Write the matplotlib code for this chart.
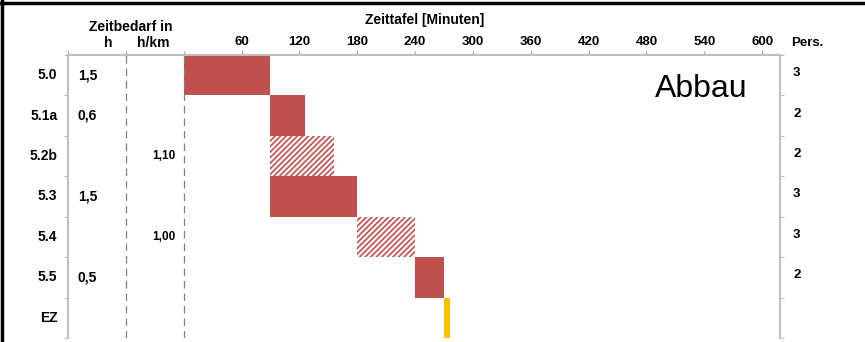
import matplotlib.pyplot as plt
from matplotlib.lines import Line2D

plt.rcParams['font.family'] = ['Liberation Sans', 'DejaVu Sans']
plt.rcParams['hatch.linewidth'] = 1.2

# data
rows = ["5.0", "5.1a", "5.2b", "5.3", "5.4", "5.5", "EZ"]
start_min = [0, 90, 90, 90, 180, 240, 270]
duration_min = [90, 36, 66, 90, 60, 30, 6]
hatched = [False, False, True, False, True, False, False]
h_values = ["1,5", "0,6", "", "1,5", "", "0,5", ""]
hkm_values = ["", "", "1,10", "", "1,00", "", ""]
pers_values = ["3", "2", "2", "3", "3", "2", ""]
time_ticks = [-120, -60, 0, 60, 120, 180, 240, 300, 360, 420, 480, 540, 600]

red = "#C0504D"
yellow = "#FFC000"
grey = "#BFBFBF"

fig = plt.figure(figsize=(8.65, 3.42), dpi=100)
ax = fig.add_axes([68/865, 1-338/342, (780-68)/865, (338-55)/342])
ax.set_xlim(-120, 618.5)
ax.set_ylim(len(rows), 0)

for i, r in enumerate(rows):
    if r == "EZ":
        ax.barh(i+0.5, duration_min[i], left=start_min[i], height=1.0, color=yellow, linewidth=0)
    elif hatched[i]:
        ax.barh(i+0.5, duration_min[i], left=start_min[i], height=1.0, facecolor="white",
                edgecolor=red, hatch="//////", linewidth=0)
    else:
        ax.barh(i+0.5, duration_min[i], left=start_min[i], height=1.0, color=red, linewidth=0)

# dashed separators for the left columns
for xv in [-60, 0]:
    ax.axvline(xv, color="#808080", linestyle=(0, (6, 4)), linewidth=0.9)

# row labels and table columns
for i, r in enumerate(rows):
    y = i + 0.5
    ax.text(-131, y, r, ha="right", va="center", fontsize=10, fontweight="bold", clip_on=False)
    ax.text(-110, y, h_values[i], ha="left", va="center", fontsize=10, fontweight="bold")
    ax.text(-9, y, hkm_values[i], ha="right", va="center", fontsize=8.5, fontweight="bold")
    ax.text(632, y - 0.05, pers_values[i], ha="left", va="center", fontsize=9.5, fontweight="bold", clip_on=False)

# header texts
ax.text(-55, -0.69, "Zeitbedarf in", ha="center", va="center", fontsize=10, fontweight="bold", clip_on=False)
ax.text(-78, -0.30, "h", ha="center", va="center", fontsize=10, fontweight="bold", clip_on=False)
ax.text(-32, -0.30, "h/km", ha="center", va="center", fontsize=10, fontweight="bold", clip_on=False)
ax.text(250, -0.87, "Zeittafel [Minuten]", ha="center", va="center", fontsize=10, fontweight="bold", clip_on=False)
ax.text(630, -0.30, "Pers.", ha="left", va="center", fontsize=9.5, fontweight="bold", clip_on=False)
ax.text(585, 0.85, "Abbau", ha="right", va="center", fontsize=23)

# axes styling
ax.xaxis.tick_top()
ax.set_xticks(time_ticks)
ax.set_xticklabels([str(t) if t > 0 else "" for t in time_ticks], fontsize=9.5, fontweight="bold")
ax.tick_params(axis="x", direction="out", length=3, color="#A0A0A0", pad=2)
ax.set_yticks(range(len(rows) + 1))
ax.set_yticklabels([])
ax.tick_params(axis="y", direction="out", length=3, color=grey, left=True, right=True)
for side in ["left", "right", "top"]:
    ax.spines[side].set_color(grey)
    ax.spines[side].set_linewidth(1.5)
ax.spines["bottom"].set_visible(False)

# frame lines of the original picture
fig.add_artist(Line2D([0, 1], [1-3/342, 1-3/342], color="black", linewidth=2.5))
fig.add_artist(Line2D([1.5/865, 1.5/865], [0, 1], color="black", linewidth=2.5))

fig.savefig("out.png", dpi=100)
